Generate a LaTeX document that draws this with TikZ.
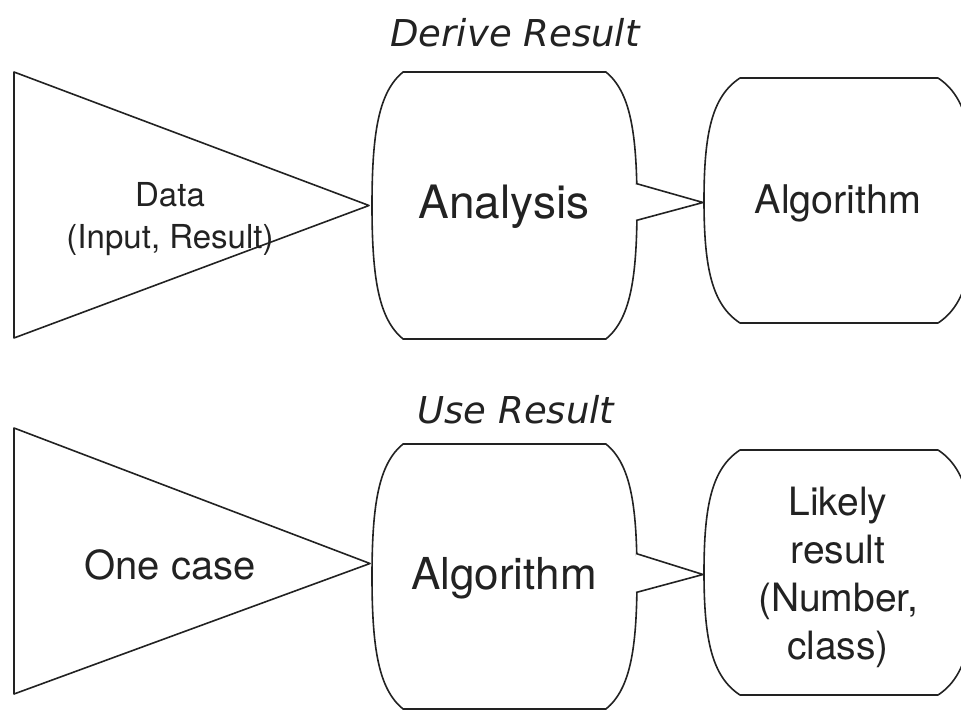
\documentclass[tikz,border=0pt]{standalone}
\usepackage{fontspec}
\setmainfont{TeX Gyre Heros}
\newfontfamily\handfont{DejaVu Sans}
\usepackage{tikz}
\usetikzlibrary{calc}
\definecolor{ink1}{RGB}{34, 34, 34}

\tikzset{
  outline/.style={draw=ink1, line width=1.6pt, line join=round, fill=white},
  label/.style={text=ink1, align=center, inner sep=0pt},
  title/.style={text=ink1, inner sep=0pt, font=\handfont\itshape\fontsize{37}{40}\selectfont},
}

\begin{document}
\begin{tikzpicture}[x=1pt, y=-1pt]
  \useasboundingbox (0,0) rectangle (961,711);
  \clip (0,0) rectangle (961,711);

  % barrel shaped boxes: name/left/top/right/bottom/inset
  \foreach \n/\l/\t/\r/\b/\i in {analysis/372/72/637/339/31, algoA/704/78/974/323/36,
                                  algoB/372/444/637/709/31, likely/704/450/974/695/36} {
    \pgfmathsetmacro{\m}{(\t+\b)/2}
    \pgfmathsetmacro{\hh}{(\b-\t)/2}
    \draw[outline] (\l+\i,\t) -- (\r-\i,\t)
      .. controls (\r-0.22*\i,\t+0.15*\hh) and (\r,\t+0.45*\hh) .. (\r,\m)
      .. controls (\r,\b-0.45*\hh) and (\r-0.22*\i,\b-0.15*\hh) .. (\r-\i,\b)
      -- (\l+\i,\b)
      .. controls (\l+0.22*\i,\b-0.15*\hh) and (\l,\b-0.45*\hh) .. (\l,\m)
      .. controls (\l,\t+0.45*\hh) and (\l+0.22*\i,\t+0.15*\hh) .. cycle;
    \coordinate (\n-w) at (\l,\m);
    \coordinate (\n-e) at (\r,\m);
  }

  % input triangles
  \draw[outline] (14,72) -- (14,338) -- ($(analysis-w)+(-3,0)$) -- cycle;
  \draw[outline] (14,428) -- (14,694) -- ($(algoB-w)+(-2,-13)$) -- cycle;

  % small links between boxes
  \draw[outline] ($(analysis-e)+(-1,-22)$) -- ($(algoA-w)+(-1,2)$) -- ($(analysis-e)+(-1,15)$);
  \draw[outline] ($(algoB-e)+(-1,-23)$) -- ($(likely-w)+(-1,2)$) -- ($(algoB-e)+(-1,16)$);

  % titles
  \node[title] (derive) at (515,33) {Derive Result};
  \node[title] (use) at (516,410) {Use Result};

  % texts
  \node[label, font=\fontsize{33}{42}\selectfont] (data) at (170,219) {Data\\(Input, Result)};
  \node[label, font=\fontsize{46}{50}\selectfont] (analysistext) at (504,207) {Analysis};
  \node[label, font=\fontsize{39.5}{44}\selectfont] (algoAtext) at (838,203) {Algorithm};
  \node[label, font=\fontsize{40}{44}\selectfont] (onecase) at (170,565) {One case};
  \node[label, font=\fontsize{44}{48}\selectfont] (algoBtext) at (504,578) {Algorithm};
  \node[label, font=\fontsize{39}{48}\selectfont] (likelytext) at (838,577) {Likely\\result\\(Number,\\class)};
\end{tikzpicture}
\end{document}
